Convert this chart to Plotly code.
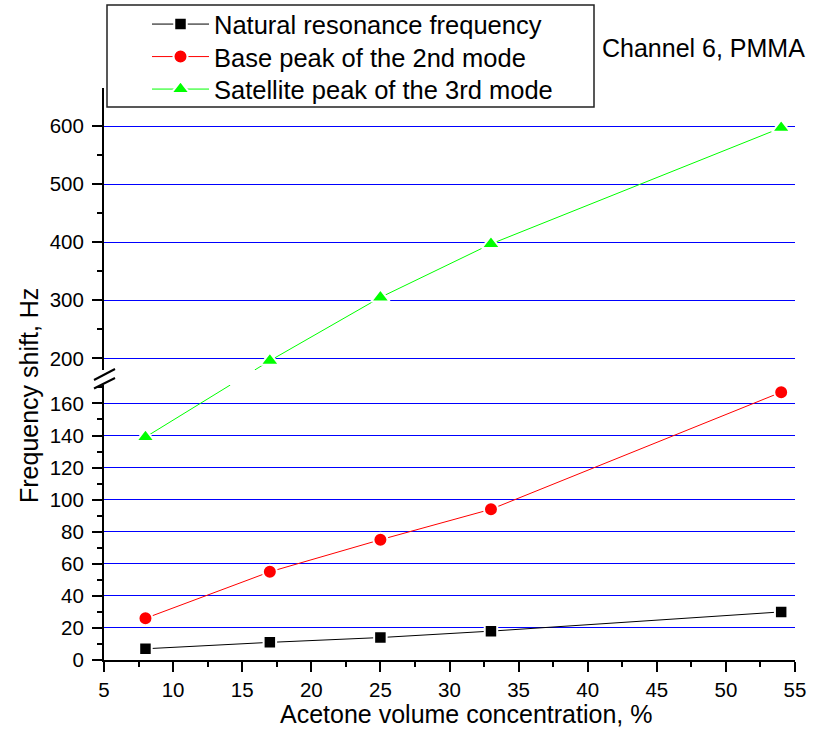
import plotly.graph_objects as go

# ---- data ----
conc = [8, 17, 25, 33, 54]
natural = [7, 11, 14, 18, 30]
base2 = [26, 55, 75, 94, 167]
sat3 = [139, 196, 305, 397, 597]

names = ["Natural resonance frequency", "Base peak of the 2nd mode", "Satellite peak of the 3rd mode"]

x_ticks = list(range(5, 60, 5))
low_ticks = list(range(0, 180, 20))
up_ticks = [200, 300, 400, 500, 600]

# ---- axis geometry ----
W, H = 814, 735
ML, MR, MT, MB = 104, 19, 88, 75
PH = H - MT - MB
low_range = [0, 171.5]
up_range = [180, 665.5]
low_dom = [0, (660 - 385) / PH]
up_dom = [(660 - 370) / PH, 1]

FONT = "Liberation Sans, Arial, sans-serif"
BLUE = "#0000FF"
GREEN = "#00FF00"
RED = "#FF0000"


def paper_low(v):
    return low_dom[0] + (low_dom[1] - low_dom[0]) * (v - low_range[0]) / (low_range[1] - low_range[0])


def paper_up(v):
    return up_dom[0] + (up_dom[1] - up_dom[0]) * (v - up_range[0]) / (up_range[1] - up_range[0])


def px2paper_x(p):
    return (p - ML) / (W - ML - MR)


def px2paper_y(p):
    return (H - MB - p) / PH


# split the green series into lower/upper parts
low_idx = [i for i, v in enumerate(sat3) if v <= low_range[1]]
up_idx = [i for i, v in enumerate(sat3) if v >= up_range[0]]
i1, i2 = low_idx[-1], up_idx[0]
f1, f2 = paper_low(sat3[i1]), paper_up(sat3[i2])
x1, x2 = conc[i1], conc[i2]
xa = x1 + (low_dom[1] - f1) / (f2 - f1) * (x2 - x1)
xb = x1 + (up_dom[0] - f1) / (f2 - f1) * (x2 - x1)

fig = go.Figure()

mk_line = dict(color="white", width=2)
TRI = 16

fig.add_trace(go.Scatter(x=conc, y=natural, name=names[0], mode="lines+markers",
                         line=dict(color="black", width=1), legend="legend",
                         marker=dict(symbol="square", size=12.5, color="black", line=mk_line),
                         xaxis="x", yaxis="y"))
fig.add_trace(go.Scatter(x=conc, y=base2, name=names[1], mode="lines+markers",
                         line=dict(color=RED, width=1), legend="legend2",
                         marker=dict(symbol="circle", size=14, color=RED, line=mk_line),
                         xaxis="x", yaxis="y"))
# green: lower connecting piece
fig.add_trace(go.Scatter(x=[conc[i] for i in low_idx] + [xa],
                         y=[sat3[i] for i in low_idx] + [low_range[1]],
                         mode="lines", line=dict(color=GREEN, width=1), showlegend=False,
                         hoverinfo="skip", xaxis="x", yaxis="y"))
# green: upper connecting piece
fig.add_trace(go.Scatter(x=[xb, conc[i2]], y=[up_range[0], sat3[i2]],
                         mode="lines", line=dict(color=GREEN, width=1), showlegend=False,
                         hoverinfo="skip", xaxis="x", yaxis="y2"))
fig.add_trace(go.Scatter(x=[conc[i] for i in low_idx], y=[sat3[i] for i in low_idx],
                         mode="markers", showlegend=False,
                         marker=dict(symbol="triangle-up", size=TRI, color=GREEN, line=mk_line),
                         xaxis="x", yaxis="y"))
fig.add_trace(go.Scatter(x=[conc[i] for i in up_idx], y=[sat3[i] for i in up_idx], name=names[2],
                         mode="lines+markers", line=dict(color=GREEN, width=1), legend="legend3",
                         marker=dict(symbol="triangle-up", size=TRI, color=GREEN, line=mk_line),
                         xaxis="x", yaxis="y2"))

tickfont = dict(family=FONT, size=20.5, color="black")

leg_rows = [25, 57.5, 90]   # pixel centres of the legend rows
LEG_OFF = 24


def leg(yc):
    return dict(x=px2paper_x(147), y=px2paper_y(yc - LEG_OFF), xanchor="left", yanchor="top",
                bgcolor="rgba(0,0,0,0)", borderwidth=0, itemwidth=57,
                font=dict(family=FONT, size=25.5, color="black"))


fig.update_layout(
    width=W, height=H,
    margin=dict(l=ML, r=MR, t=MT, b=MB, autoexpand=False),
    paper_bgcolor="white", plot_bgcolor="white",
    font=dict(family=FONT, color="black"),
    showlegend=True,
    legend=leg(leg_rows[0]), legend2=leg(leg_rows[1]), legend3=leg(leg_rows[2]),
    xaxis=dict(range=[5, 55], tickvals=x_ticks, showgrid=False, zeroline=False,
               showline=True, linecolor="black", linewidth=2,
               ticks="outside", ticklen=10, tickwidth=2, tickcolor="black",
               minor=dict(dtick=2.5, tick0=5, ticks="outside", ticklen=5, tickwidth=2, tickcolor="black"),
               tickfont=tickfont, anchor="y"),
    yaxis=dict(domain=low_dom, range=low_range, tickvals=low_ticks,
               showgrid=True, gridcolor=BLUE, gridwidth=1.3, zeroline=False,
               showline=True, linecolor="black", linewidth=2,
               ticks="outside", ticklen=10, tickwidth=2, tickcolor="black",
               minor=dict(dtick=10, tick0=0, ticks="outside", ticklen=5, tickwidth=2, tickcolor="black"),
               tickfont=tickfont, anchor="x", ticklabelstandoff=4),
    yaxis2=dict(domain=up_dom, range=up_range, tickvals=up_ticks,
                showgrid=True, gridcolor=BLUE, gridwidth=1.3, zeroline=False,
                showline=True, linecolor="black", linewidth=2,
                ticks="outside", ticklen=10, tickwidth=2, tickcolor="black",
                minor=dict(tickvals=[250, 350, 450, 550], ticks="outside", ticklen=5, tickwidth=2, tickcolor="black"),
                tickfont=tickfont, anchor="x", ticklabelstandoff=4),
)

# legend frame
fig.add_shape(type="rect", xref="paper", yref="paper",
              x0=px2paper_x(107), x1=px2paper_x(594), y0=px2paper_y(107), y1=px2paper_y(5),
              line=dict(color="#222222", width=1.5), fillcolor="white", layer="above")

# axis break marks
for (ax0, ay0, ax1, ay1) in [(94, 380, 115, 369), (94, 388.5, 115, 378)]:
    fig.add_shape(type="line", xref="paper", yref="paper",
                  x0=px2paper_x(ax0), y0=px2paper_y(ay0), x1=px2paper_x(ax1), y1=px2paper_y(ay1),
                  line=dict(color="black", width=2))

ann = dict(xref="paper", yref="paper", showarrow=False, xanchor="center", yanchor="middle",
           font=dict(family=FONT, size=25, color="black"))
fig.add_annotation(text="Channel 6, PMMA", x=px2paper_x(703), y=px2paper_y(48), **ann)
fig.add_annotation(text="Acetone volume concentration, %", x=px2paper_x(466), y=px2paper_y(714), **ann)
fig.add_annotation(text="Frequency shift, Hz", textangle=-90, x=px2paper_x(29), y=px2paper_y(396), **ann)

fig.write_html("out.html")
